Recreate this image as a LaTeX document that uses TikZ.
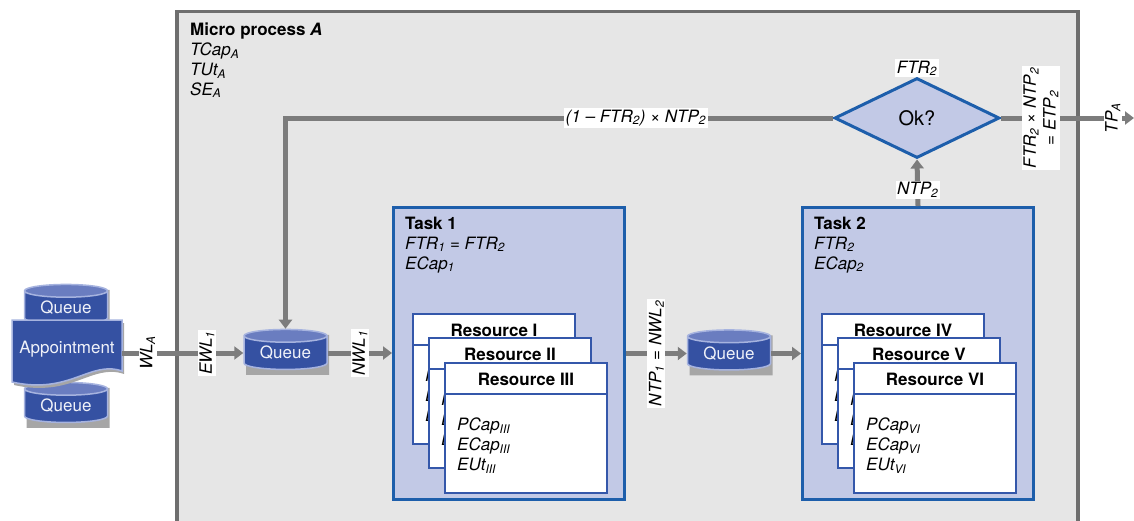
\documentclass[tikz,border=0pt]{standalone}
\usepackage{fontspec}
\setmainfont{TeX Gyre Heros}
\usetikzlibrary{arrows.meta,positioning,shapes.geometric}

\definecolor{framegray}{HTML}{6E6E6E}
\definecolor{framefill}{HTML}{E6E6E6}
\definecolor{taskfill}{HTML}{C2C9E6}
\definecolor{taskblue}{HTML}{1D5EAB}
\definecolor{cardblue}{HTML}{3457AA}
\definecolor{qbody}{HTML}{3551A2}
\definecolor{qtop}{HTML}{6A7DC0}
\definecolor{qedge}{HTML}{A6B3DF}
\definecolor{flowgray}{HTML}{7C7C7C}

\newcommand\picfont{\fontsize{17}{19.8}\selectfont}

\tikzset{
  flow/.style={draw=flowgray, line width=5pt, -{Triangle[length=9pt,width=13pt]}},
  lbl/.style={fill=white, inner sep=1.5pt, font=\picfont\itshape},
  task/.style={draw=taskblue, line width=3pt, fill=taskfill, minimum width=231pt,
    minimum height=292pt, anchor=north west, inner sep=0pt},
  card/.style={draw=cardblue, line width=2pt, fill=white, minimum width=162pt,
    minimum height=130pt, anchor=north west, inner sep=0pt},
  qshade/.style={cylinder, shape border rotate=90, aspect=0.25, fill=black!35,
    minimum width=83pt, minimum height=40pt, inner sep=0pt},
  queue/.style={cylinder, shape border rotate=90, aspect=0.25, draw=qedge, line width=1.5pt,
    cylinder uses custom fill, cylinder body fill=qbody, cylinder end fill=qtop,
    minimum width=83pt, minimum height=40pt, text=white!90!qtop, inner sep=0pt}
}

\begin{document}
\begin{tikzpicture}[x=1pt,y=-1pt,font=\picfont]
\useasboundingbox (0,0) rectangle (1134,520);
\clip (0,0) rectangle (1134,520);

% micro process frame
\draw[framegray, line width=3.5pt, fill=framefill] (177,11.5) rectangle (1078,540);
\node[anchor=north west, align=left, inner sep=0pt] (title) at (190,23)
  {\textbf{Micro process \textit{A}}\\\textit{TCap\textsubscript{A}}\\\textit{TUt\textsubscript{A}}\\\textit{SE\textsubscript{A}}};

% incoming queues and appointment
\node[qshade] at (68,310) {};
\node[qshade] at (68,408) {};
\node[queue] (qin) at (66,308) {Queue};
\node[queue] (qout) at (66,406) {Queue};
\fill[black!35] (14,323) -- (124,323) -- (124,374) .. controls (92,363) and (72,398) .. (14,385) -- cycle;
\path[fill=qbody, draw=qedge, line width=1.5pt] (12,320) -- (122,320) -- (122,371)
  .. controls (90,360) and (70,395) .. (12,382) -- cycle;
\node[text=white!90!qtop, minimum width=110pt, inner sep=0pt] (appt) at (67,349) {Appointment};

% queues
\node[qshade] at (287.5,355) {};
\node[qshade] at (731,355.5) {};
\node[queue] (q1) at (285.5,353) {Queue};
\node[queue] (q2) at (729,353.5) {Queue};

% tasks
\node[task] (task1) at (392,206) {};
\node[task] (task2) at (801,206) {};
\node[anchor=north west, align=left, inner sep=0pt] at ([xshift=13pt,yshift=-11pt]task1.north west)
  {\textbf{Task 1}\\\textit{FTR\textsubscript{1} = FTR\textsubscript{2}}\\\textit{ECap\textsubscript{1}}};
\node[anchor=north west, align=left, inner sep=0pt] at ([xshift=13pt,yshift=-11pt]task2.north west)
  {\textbf{Task 2}\\\textit{FTR\textsubscript{2}}\\\textit{ECap\textsubscript{2}}};

% resources
\foreach \t/\n/\r/\dx/\dy in {task1/a/I/20/107, task1/b/II/36/131, task1/c/III/52/156,
                               task2/a/IV/20/107, task2/b/V/36/131, task2/c/VI/52/156} {
  \node[card] (\t\n) at ([xshift=\dx pt, yshift=-\dy pt]\t.north west) {};
  \draw[cardblue, line width=2pt] ([yshift=-32pt]\t\n.north west) -- ([yshift=-32pt]\t\n.north east);
  \node[font=\picfont\bfseries, anchor=base] at ([yshift=-23pt]\t\n.north) {Resource \r};
  \node[anchor=north west, align=left, inner sep=0pt] at ([xshift=13pt, yshift=-56pt]\t\n.north west)
    {\textit{PCap\textsubscript{\r}}\\\textit{ECap\textsubscript{\r}}\\\textit{EUt\textsubscript{\r}}};
}

% check
\node[diamond, draw=taskblue, line width=3pt, fill=taskfill, minimum width=165pt, minimum height=80pt,
  aspect=2, inner sep=0pt, font=\fontsize{20}{22}\selectfont] (ok) at (917,118) {Ok?};
\node[lbl, above=-1pt of ok.north] {FTR\textsubscript{2}};
\coordinate (out) at (1134,118);

% flows
\draw[flow] (appt.east |- q1.west) -- (q1.west)
  node[lbl, rotate=90, pos=0.21] {WL\textsubscript{A}}
  node[lbl, rotate=90, pos=0.70] {EWL\textsubscript{1}};
\draw[flow] (q1.east) -- (task1.west |- q1.east)
  node[lbl, rotate=90, midway] {NWL\textsubscript{1}};
\draw[flow] (task1.east |- q2.west) -- (q2.west)
  node[lbl, rotate=90, midway] {NTP\textsubscript{1} = NWL\textsubscript{2}};
\draw[flow] (q2.east) -- (task2.west |- q2.east);
\draw[flow] (task2.north) -- (ok.south)
  node[lbl, pos=0.35] {NTP\textsubscript{2}};
\draw[flow] (ok.west) -| (q1.north)
  node[lbl, pos=0.18] {(1 – FTR\textsubscript{2}) × NTP\textsubscript{2}};
\draw[flow] (ok.east) -- (out)
  node[lbl, rotate=90, align=center, pos=0.3] {FTR\textsubscript{2} × NTP\textsubscript{2}\\= ETP\textsubscript{2}}
  node[lbl, rotate=90, pos=0.84] {TP\textsubscript{A}};
\end{tikzpicture}
\end{document}
